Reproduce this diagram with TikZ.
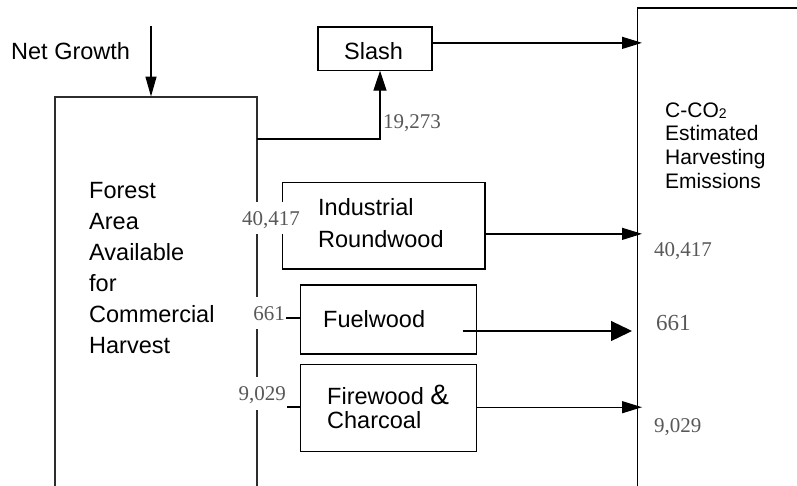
\documentclass[tikz,border=0pt]{standalone}
\usepackage{fontspec}
\setmainfont{Liberation Sans}
\newfontfamily\numfont{Liberation Serif}
\usetikzlibrary{arrows.meta}
\definecolor{numgray}{RGB}{88,88,88}
\definecolor{framegray}{RGB}{45,45,45}
\begin{document}
\begin{tikzpicture}[x=1pt,y=-1pt,
  box/.style={draw, line width=1.4pt, inner sep=0pt, outer sep=0pt, anchor=north west},
  txt/.style={inner sep=0pt, anchor=base west, font=\fontsize{23.5}{28}\selectfont},
  num/.style={inner sep=0pt, anchor=base west, text=numgray, font=\numfont\fontsize{21}{25}\selectfont},
  numcut/.style={num, fill=white, inner xsep=1pt, inner ysep=9pt, text height=14.5pt, text depth=0pt, anchor=base east},
  conn/.style={line width=1.3pt},
  arr/.style={conn, -{Triangle[length=20pt,width=12pt]}},
  bigarr/.style={conn, -{Triangle[length=21pt,width=20pt]}}
]
\useasboundingbox (0,0) rectangle (797,485);
\clip (0,0) rectangle (797,485);

% boxes
\node[box, draw=framegray, line width=2pt, minimum width=202pt, minimum height=460pt] (forest) at (55,96.5) {};
\node[box, minimum width=220pt, minimum height=520pt] (emis) at (637.7,8) {};
\node[box, minimum width=114pt, minimum height=43.7pt] (slash) at (318,27) {};
\node[box, minimum width=202.3pt, minimum height=86.3pt] (ind) at (282.7,182.7) {};
\node[box, minimum width=176.4pt, minimum height=69pt] (fuel) at (300.3,285) {};
\node[box, minimum width=176.4pt, minimum height=87pt] (fire) at (300.3,364.7) {};

% texts
\node[txt] (ng) at (11,59) {Net Growth};
\node[txt] (slashtxt) at (344,59) {Slash};
\node[txt] (foresttxt) at (89,198) {\vtop{\baselineskip=31pt \hbox{Forest}\hbox{Area}\hbox{Available}\hbox{for}\hbox{Commercial}\hbox{Harvest}}};
\node[txt] (indtxt) at (318,215) {\vtop{\baselineskip=32pt \hbox{Industrial}\hbox{Roundwood}}};
\node[txt] (fueltxt) at (323,327) {Fuelwood};
\node[txt] (firetxt) at (327,404) {\vtop{\baselineskip=24pt \hbox{Firewood {\fontsize{28}{30}\selectfont\&}}\hbox{Charcoal}}};
\node[txt, font=\fontsize{21}{25}\selectfont] (ccotxt) at (665,117) {\vtop{\baselineskip=23.7pt \hbox{C-CO\raisebox{-1pt}{\fontsize{14}{14}\selectfont 2}}\hbox{Estimated}\hbox{Harvesting}\hbox{Emissions}}};

% numbers
\node[num] (n19273) at (383,128) {19,273};
\node[numcut] (l40417) at (301,225) {40,417};
\node[numcut] (l661) at (286,320) {661};
\node[numcut] (l9029) at (287,400.7) {9,029};
\node[num] (r40417) at (654,256) {40,417};
\node[num, font=\numfont\fontsize{23}{27}\selectfont] (r661) at (656,330) {661};
\node[num] (r9029) at (654,432.7) {9,029};

% connectors
\coordinate (ngs) at (151,26);
\draw[conn, -{Triangle[length=20pt,width=11pt]}] (ngs) -- (ngs |- forest.north);
\coordinate (slj) at (380,139);
\draw[conn, -{Triangle[length=20pt,width=13pt]}] (forest.east |- slj) -- (slj) -- (slj |- slash.south);
\draw[arr, shorten >=-4.3pt] ([yshift=6pt]slash.east) -- ([yshift=6pt]slash.east -| emis.west);
\draw[arr, shorten >=-4.3pt] ([yshift=-8pt]ind.east) -- ([yshift=-8pt]ind.east -| emis.west);
\draw[bigarr, shorten >=5.7pt] ([xshift=-14pt,yshift=-11.5pt]fuel.east) -- ([yshift=-11.5pt]fuel.east -| emis.west);
\draw[arr, shorten >=-4.3pt] ([yshift=1pt]fire.east) -- ([yshift=1pt]fire.east -| emis.west);
\draw[conn] ([yshift=2pt]l661.base east) -- ([yshift=2pt]l661.base east -| fuel.west);
\draw[conn] ([yshift=-6.3pt]l9029.base east) -- ([yshift=-6.3pt]l9029.base east -| fire.west);
\end{tikzpicture}
\end{document}
